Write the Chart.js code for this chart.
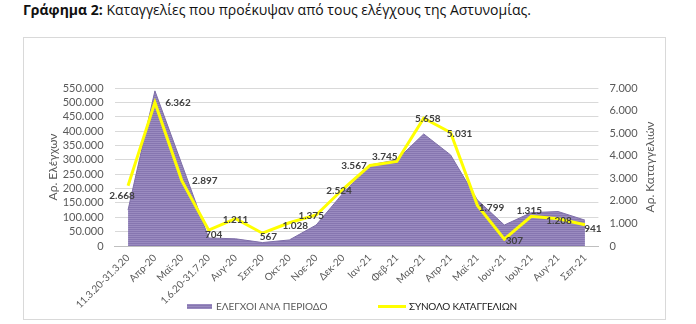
<!DOCTYPE html>
<html lang="el">
<head>
<meta charset="UTF-8">
<title>Γράφημα 2</title>
<script src="https://cdn.jsdelivr.net/npm/chart.js"></script>
<style>
  body { margin: 0; background: #fff; font-family: Lato, "Open Sans", sans-serif; }
  .title { position: absolute; left: 23px; top: 0; line-height: 20px; font-family: "Open Sans", sans-serif; font-size: 14px; color: #111; white-space: nowrap; }
  .box { position: absolute; left: 23px; top: 37px; width: 641px; height: 281px; border: 1px solid #d9d9d9; }
  .legend-item { position: absolute; top: 261px; height: 14px; display: flex; align-items: center; font-size: 10px; white-space: nowrap; }
  .sw-area { width: 25px; height: 5px; margin-right: 4px; background: repeating-linear-gradient(#9a8bc0 0 1px, #8676b0 1px 2px); }
  .sw-line { width: 28px; height: 3px; margin-right: 3px; background: #ffff00; }
</style>
</head>
<body>
<div class="title"><b>Γράφημα 2:</b> Καταγγελίες που προέκυψαν από τους ελέγχους της Αστυνομίας.</div>
<div class="box">
  <canvas id="chart"></canvas>
  <div class="legend-item" style="left:163px; color:#595959;"><span class="sw-area"></span>ΕΛΕΓΧΟΙ ΑΝΑ ΠΕΡΙΟΔΟ</div>
  <div class="legend-item" style="left:354px; color:#1a1a1a; letter-spacing:-0.2px;"><span class="sw-line"></span>ΣΥΝΟΛΟ ΚΑΤΑΓΓΕΛΙΩΝ</div>
</div>

<script>
  // periods on the x axis
  const periods = ['11.3.20-31.3.20', 'Απρ-20', 'Μαϊ-20', '1.6.20-31.7.20', 'Αυγ-20', 'Σεπ-20', 'Οκτ-20',
    'Νοε-20', 'Δεκ-20', 'Ιαν-21', 'Φεβ-21', 'Μαρ-21', 'Απρ-21', 'Μαϊ-21', 'Ιουν-21', 'Ιουλ-21', 'Αυγ-21', 'Σεπ-21'];

  // police checks per period (left axis)
  const checks = [125000, 540000, 285000, 28000, 25000, 12000, 21000, 73000, 184000,
    282000, 300000, 390000, 317000, 160000, 73000, 116000, 120000, 90000];

  // total complaints (right axis, labelled values)
  const complaints = [2668, 6362, 2897, 704, 1211, 567, 1028, 1375, 2524,
    3567, 3745, 5658, 5031, 1799, 307, 1315, 1208, 941];

  // where each complaint label sits relative to its point
  const labelShift = [[-6, 10], [23, 0], [23, 0], [5, 5], [0, 1], [6, 4], [6, 3], [-5, 1], [-4, 2],
    [-16, 0], [-12, -5], [4, 0], [9, 1], [14, 2], [10, 2], [-2, -6], [1, 2], [8, 4]];

  const fmt = v => String(v).replace(/\B(?=(\d{3})+(?!\d))/g, '.');
  const FONT = 'Lato, "Open Sans", sans-serif';
  const GREY = '#595959';

  // striped purple fill like the original
  function stripes() {
    let c = document.createElement('canvas');
    c.width = 4; c.height = 2;
    let g = c.getContext('2d');
    g.fillStyle = '#9a8bc0'; g.fillRect(0, 0, 4, 1);
    g.fillStyle = '#8676b0'; g.fillRect(0, 1, 4, 1);
    return g.createPattern(c, 'repeat');
  }

  const valueLabels = {
    id: 'valueLabels',
    afterDatasetsDraw(chart) {
      let ctx = chart.ctx;
      let meta = chart.getDatasetMeta(0);
      ctx.save();
      ctx.font = 'bold 10px ' + FONT;
      ctx.fillStyle = '#404040';
      ctx.textAlign = 'center';
      ctx.textBaseline = 'middle';
      meta.data.forEach((pt, i) => {
        ctx.fillText(fmt(complaints[i]), pt.x + labelShift[i][0], pt.y + labelShift[i][1]);
      });
      ctx.restore();
    }
  };

  const rightTitle = {
    id: 'rightTitle',
    afterDraw(chart) {
      let ctx = chart.ctx;
      let a = chart.chartArea;
      ctx.save();
      ctx.translate(626, (a.top + a.bottom) / 2);
      ctx.rotate(-Math.PI / 2);
      ctx.font = '12px ' + FONT;
      ctx.fillStyle = GREY;
      ctx.textAlign = 'center';
      ctx.textBaseline = 'middle';
      ctx.fillText('Αρ. Καταγγελιών', 0, 0);
      ctx.restore();
    }
  };

  new Chart(document.getElementById('chart'), {
    type: 'line',
    data: {
      labels: periods,
      datasets: [{
        label: 'ΣΥΝΟΛΟ ΚΑΤΑΓΓΕΛΙΩΝ',
        data: complaints,
        yAxisID: 'y1',
        borderColor: '#ffff00',
        borderWidth: 3,
        pointRadius: 0,
        fill: false,
        order: 0
      }, {
        label: 'ΕΛΕΓΧΟΙ ΑΝΑ ΠΕΡΙΟΔΟ',
        data: checks,
        yAxisID: 'y',
        backgroundColor: stripes(),
        borderColor: '#7e6ea8',
        borderWidth: 1,
        pointRadius: 0,
        fill: 'origin',
        order: 1
      }]
    },
    options: {
      responsive: true,
      maintainAspectRatio: false,
      animation: false,
      layout: { padding: { top: 50, left: 0, right: 0, bottom: 0 } },
      plugins: { legend: { display: false }, tooltip: { enabled: false } },
      scales: {
        x: {
          offset: true,
          grid: { display: false, drawTicks: false },
          border: { display: true, color: '#bfbfbf', width: 1 },
          ticks: { autoSkip: false, minRotation: 45, maxRotation: 45, padding: 6, color: GREY, font: { family: FONT, size: 10 } },
          afterFit: s => { s.height = 73; }
        },
        y: {
          position: 'left',
          min: 0, max: 550000,
          ticks: { autoSkip: false, stepSize: 50000, padding: 11, color: GREY, font: { family: FONT, size: 11 }, callback: v => fmt(v) },
          grid: { color: '#d9d9d9', drawTicks: false },
          border: { display: false },
          title: { display: true, text: 'Αρ. Ελέγχων', color: GREY, font: { family: FONT, size: 12 }, padding: { top: 22, bottom: 0 } },
          afterFit: s => { s.width = 90.6; }
        },
        y1: {
          position: 'right',
          min: 0, max: 7000,
          ticks: { autoSkip: false, stepSize: 1000, padding: 11, color: GREY, font: { family: FONT, size: 11 }, callback: v => fmt(v) },
          grid: { display: false, drawTicks: false },
          border: { display: false },
          afterFit: s => { s.width = 66.6; }
        }
      }
    },
    plugins: [valueLabels, rightTitle]
  });
</script>
</body>
</html>
